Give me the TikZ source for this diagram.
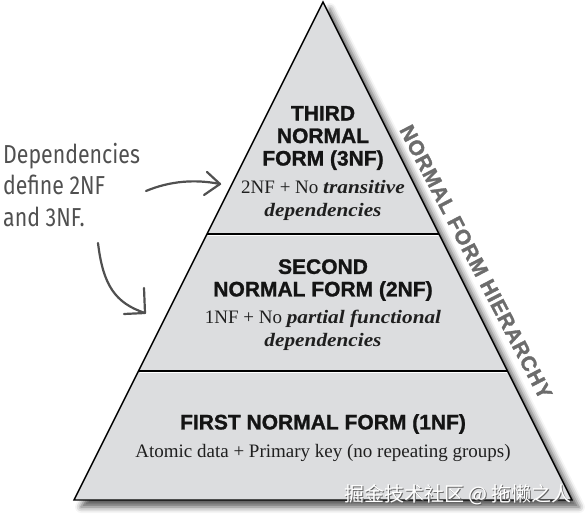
\documentclass[tikz,border=0pt]{standalone}
\usepackage{fontspec}
\setmainfont{Liberation Serif}
\setsansfont{Liberation Sans}
\newfontfamily\handfont[FakeStretch=0.82]{Fira Sans}
\newfontfamily\titlefont[FakeBold=1.2]{Liberation Sans Bold}
\newfontfamily\hierfont[LetterSpace=4,FakeBold=1.4]{Liberation Sans Bold}
\newfontfamily\bifont[FakeStretch=1.12]{Liberation Serif Bold Italic}
\newfontfamily\cjkfont{Noto Sans CJK SC}
\usetikzlibrary{shadows.blur}
\definecolor{trifill}{RGB}{220,221,223}
\definecolor{inkgray}{RGB}{80,80,80}
\definecolor{hiergray}{RGB}{108,108,108}
\newcommand{\bi}[1]{{\bifont #1}}
\tikzset{
  tiertitle/.style={font=\titlefont\fontsize{21}{22.5}\selectfont, text=black!92, align=center, inner sep=0pt},
  tierdesc/.style={font=\fontsize{19}{23}\selectfont, text=black!88, align=center, inner sep=0pt},
  handnote/.style={font=\handfont\fontsize{26}{31.5}\selectfont, text=inkgray, align=left, inner sep=0pt},
  handarrow/.style={draw=inkgray, line width=2.2pt, line cap=round, line join=round},
  divider/.style={draw=black, line width=1.3pt},
  dividerhl/.style={draw=white, line width=0.8pt},
  hierlabel/.style={font=\hierfont\fontsize{21}{21}\selectfont, text=hiergray, inner sep=0pt},
  wmark/.style={font=\cjkfont\fontsize{20}{20}\selectfont, inner sep=0pt}
}
\begin{document}
\begin{tikzpicture}[x=1pt,y=-1pt]
\useasboundingbox (0,0) rectangle (588,521);
\coordinate (apex) at (323,2);
\coordinate (bl) at (74,500);
\coordinate (br) at (572,500);
% pyramid
\path[fill=trifill, draw=black, line width=1.4pt, line join=miter,
  blur shadow={shadow xshift=7pt, shadow yshift=-7pt, shadow blur radius=6pt, shadow opacity=65}]
  (apex) -- (br) -- (bl) -- cycle;
% dividers
\coordinate (d1l) at (207,234); \coordinate (d1r) at (439,234);
\coordinate (d2l) at (138.5,371); \coordinate (d2r) at (507.5,371);
\draw[dividerhl] (208,235.6) -- (438,235.6);
\draw[dividerhl] (139.5,372.6) -- (506.5,372.6);
\draw[divider] (d1l) -- (d1r);
\draw[divider] (d2l) -- (d2r);
% tier 3
\node[tiertitle] (t3) at (323,138) {THIRD\\NORMAL\\FORM (3NF)};
\node[tierdesc] (d3) at (323,200) {2NF + No \bi{transitive}\\\bi{dependencies}};
% tier 2
\node[tiertitle] (t2) at (323,280) {SECOND\\NORMAL FORM (2NF)};
\node[tierdesc] (d2) at (323,330) {1NF + No \bi{partial functional}\\\bi{dependencies}};
% tier 1
\node[tiertitle] (t1) at (323,424) {FIRST NORMAL FORM (1NF)};
\node[tierdesc] (d1) at (323,453) {Atomic data + Primary key (no repeating groups)};
% side label
\node[hierlabel, rotate=-62.5] (hier) at (476,262) {NORMAL FORM HIERARCHY};
% note
\node[handnote, anchor=north west] (note) at (3,143) {Dependencies\\define 2NF\\and 3NF.};
\coordinate (a1s) at (146,191);
\coordinate (a1e) at (220,184);
\coordinate (a2s) at (98,243);
\coordinate (a2e) at (145,313);
\draw[handarrow] (a1s) .. controls (170,181) and (195,179) .. (a1e);
\draw[handarrow] (207,172) -- (a1e) -- (204,195);
\draw[handarrow] (a2s) .. controls (103,285) and (115,303) .. (a2e);
\draw[handarrow] (144,288) -- (a2e) -- (124,314);
% watermark
\node[wmark, text=black!60] (wms) at (459,496) {掘金技术社区 @ 拖懒之人};
\node[wmark, text=white] (wm) at (458,495) {掘金技术社区 @ 拖懒之人};
\end{tikzpicture}
\end{document}
